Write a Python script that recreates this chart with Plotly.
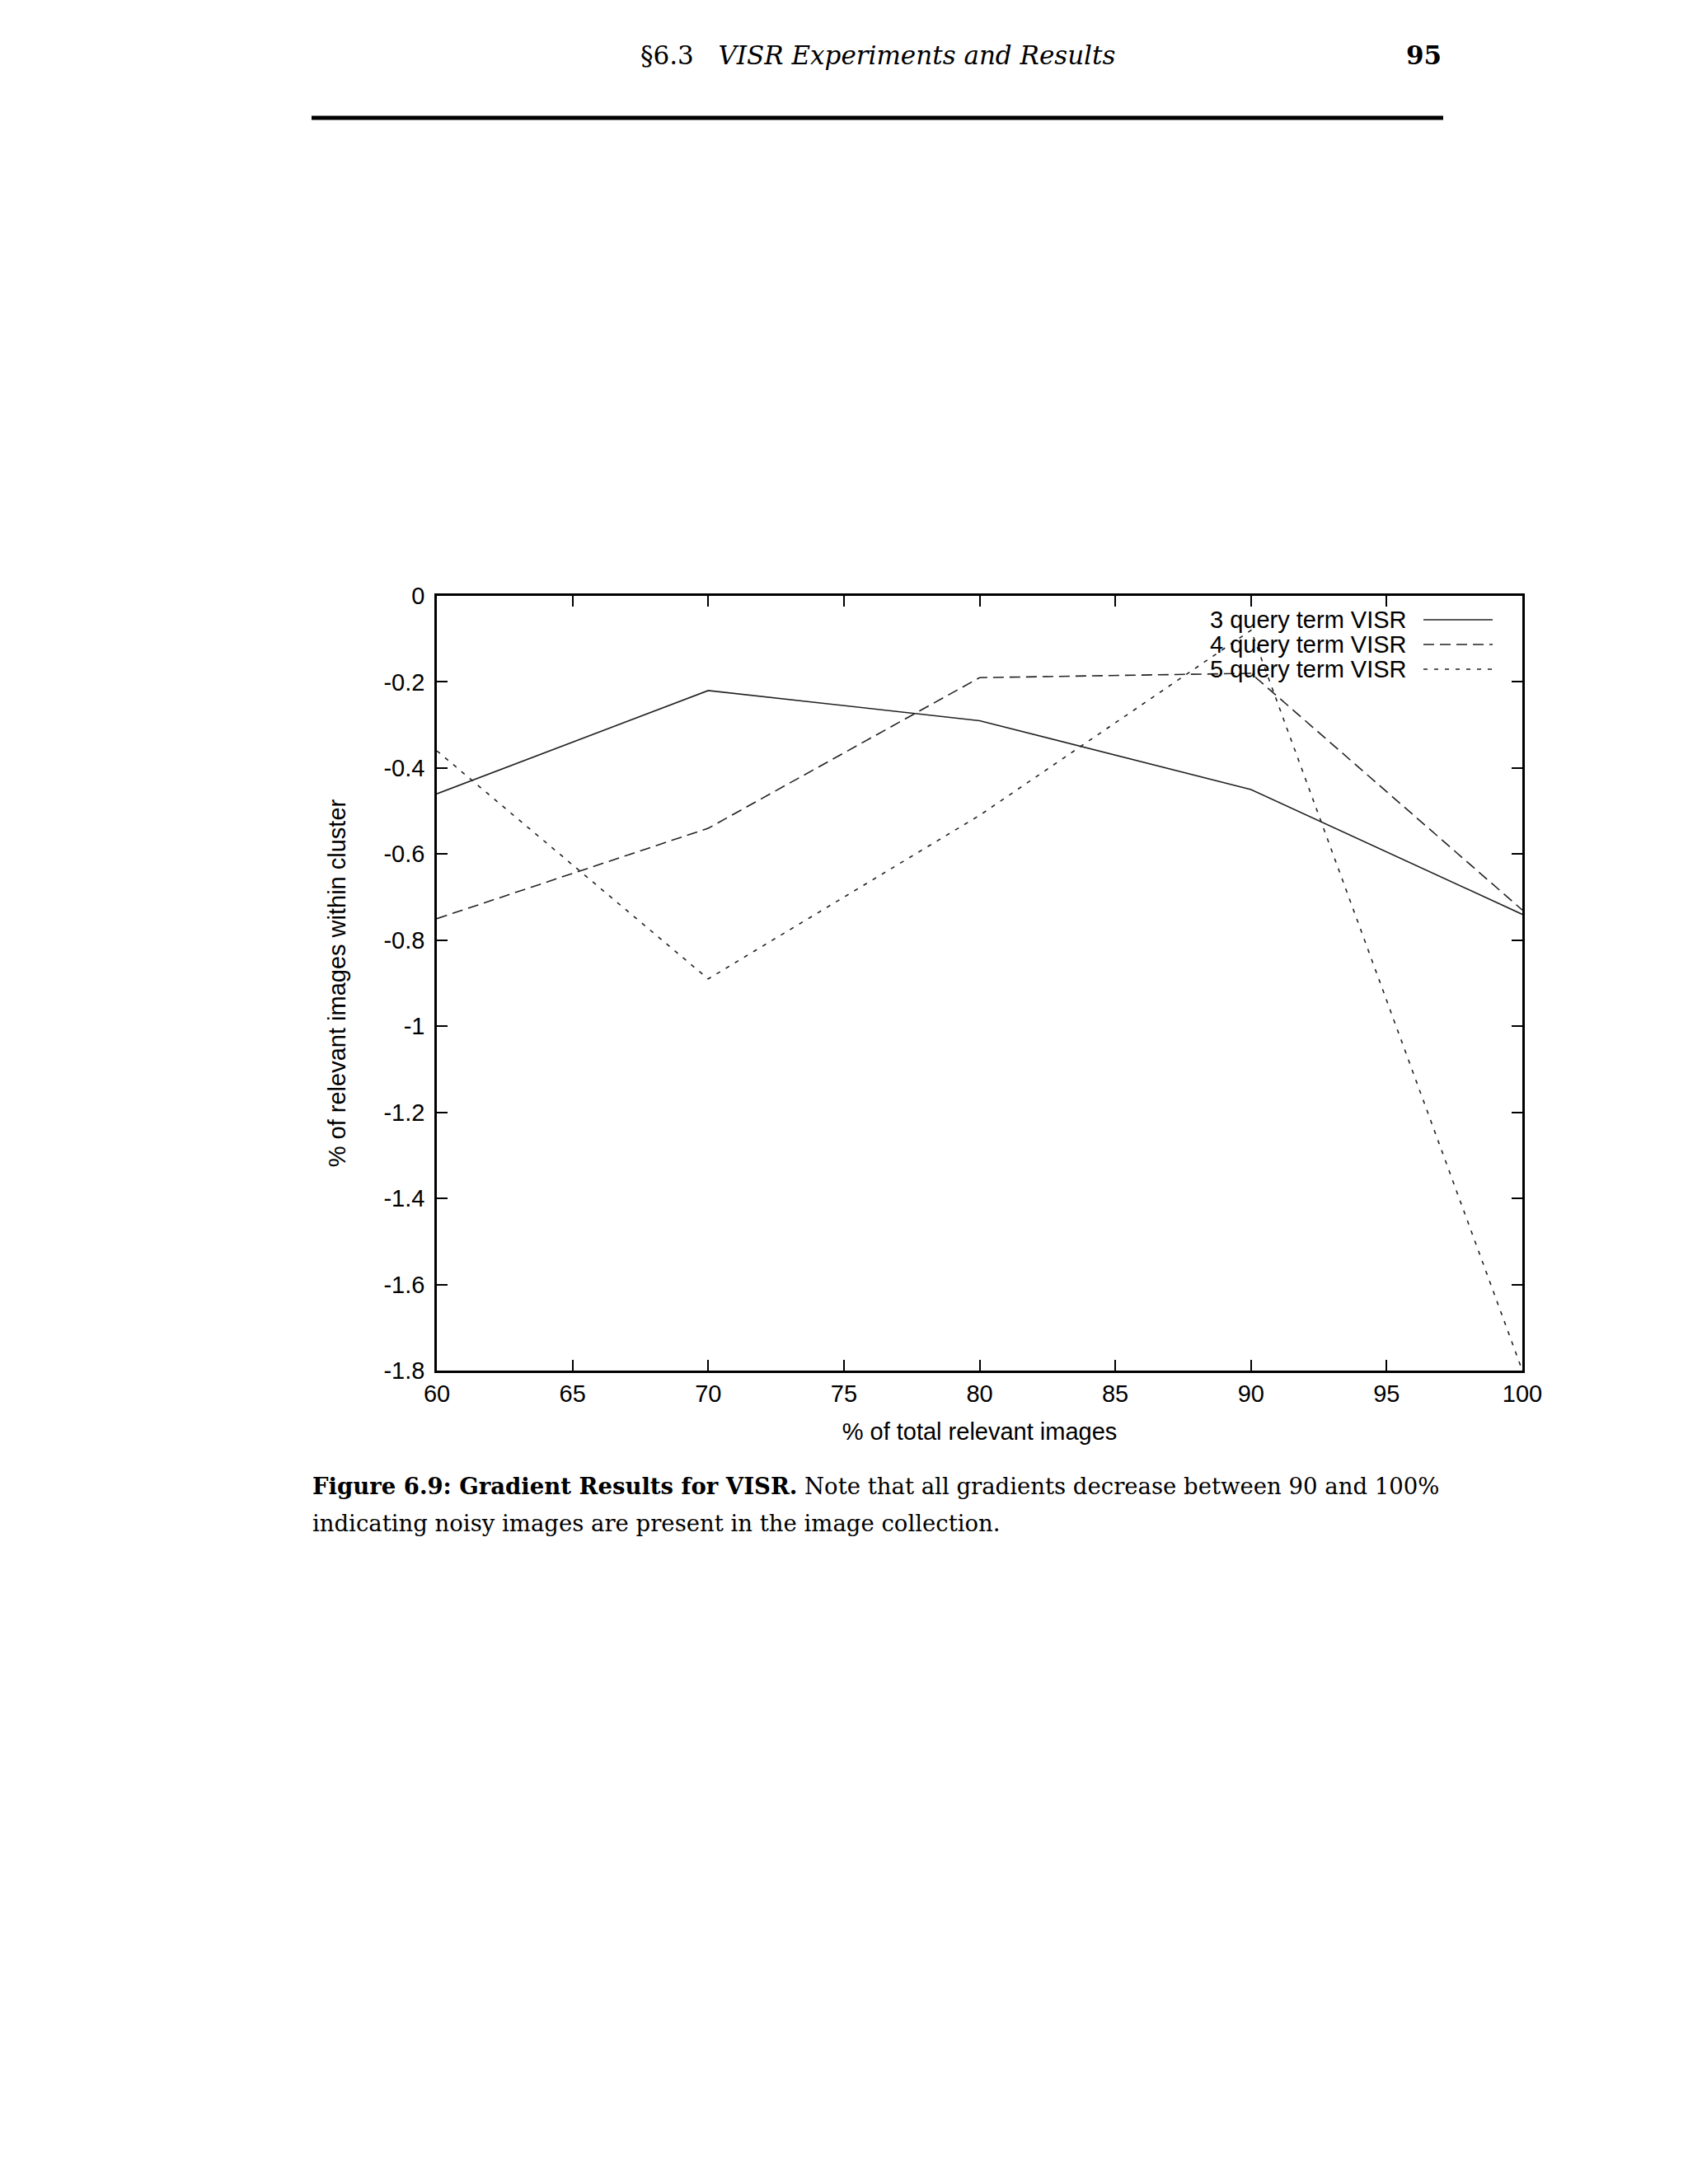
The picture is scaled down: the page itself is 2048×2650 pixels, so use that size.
import plotly.graph_objects as go

# ---- data ----
x_pct = [60, 70, 80, 90, 100]
q3_vals = [-0.46, -0.22, -0.29, -0.45, -0.74]
q4_vals = [-0.75, -0.54, -0.19, -0.18, -0.73]
q5_vals = [-0.36, -0.89, -0.51, -0.08, -1.80]
series_names = ["3 query term VISR", "4 query term VISR", "5 query term VISR"]
x_ticks = [60, 65, 70, 75, 80, 85, 90, 95, 100]
y_ticks = [0, -0.2, -0.4, -0.6, -0.8, -1, -1.2, -1.4, -1.6, -1.8]
y_tick_labels = ["0", "-0.2", "-0.4", "-0.6", "-0.8", "-1", "-1.2", "-1.4", "-1.6", "-1.8"]

W, H = 2048, 2650
L, R, T, B = 530, 1847, 723, 1663
PW, PH = R - L, B - T


def px(X):
    return (X - L) / PW


def py(Y):
    return 1 - (Y - T) / PH


SANS = "Liberation Sans, Arial, sans-serif"
SERIF = "DejaVu Serif, serif"
FS = 29
dashes = ["solid", "13px,7px", "5px,8px"]
series = [q3_vals, q4_vals, q5_vals]

fig = go.Figure()
for name, vals, d in zip(series_names, series, dashes):
    fig.add_trace(go.Scatter(x=x_pct, y=vals, mode="lines", name=name,
                             line=dict(color="#222222", width=1.6, dash=d),
                             showlegend=False))

annotations = []
shapes = []
# manual gnuplot-style legend (text right, sample line after)
legend_rows = [752, 782, 812]
for name, d, yy in zip(series_names, dashes, legend_rows):
    annotations.append(dict(text=name, x=px(1709), y=py(yy), xref="paper", yref="paper",
                            xanchor="right", yanchor="middle", showarrow=False,
                            font=dict(family=SANS, size=FS, color="black")))
    shapes.append(dict(type="line", xref="paper", yref="paper",
                       x0=px(1727), x1=px(1811), y0=py(yy), y1=py(yy),
                       line=dict(color="#222222", width=1.6, dash=d)))

# page header
annotations.append(dict(text="§6.3   <i>VISR Experiments and Results</i>", x=px(775), y=py(67),
                        xref="paper", yref="paper", xanchor="left", yanchor="middle",
                        showarrow=False, font=dict(family=SERIF, size=31, color="black")))
annotations.append(dict(text="<b>95</b>", x=px(1751), y=py(67),
                        xref="paper", yref="paper", xanchor="right", yanchor="middle",
                        showarrow=False, font=dict(family=SERIF, size=31, color="black")))
shapes.append(dict(type="line", xref="paper", yref="paper",
                   x0=px(378), x1=px(1751), y0=py(143), y1=py(143),
                   line=dict(color="black", width=5)))

# caption (two lines)
cap_lines = [
    "<b>Figure 6.9: Gradient Results for VISR.</b> Note that all gradients decrease between 90 and 100%",
    "indicating noisy images are present in the image collection.",
]
for line_text, yy in zip(cap_lines, [1803, 1848]):
    annotations.append(dict(text=line_text, x=px(377), y=py(yy), xref="paper", yref="paper",
                            xanchor="left", yanchor="middle", align="left", showarrow=False,
                            font=dict(family=SERIF, size=27.5, color="black")))

axis_common = dict(showline=True, linecolor="black", linewidth=2.5, mirror="allticks",
                   ticks="inside", ticklen=13, tickwidth=2, tickcolor="black",
                   showgrid=False, zeroline=False,
                   tickfont=dict(family=SANS, size=FS, color="black"))

fig.update_layout(
    width=W, height=H,
    margin=dict(l=L, r=W - R, t=T, b=H - B, pad=0),
    paper_bgcolor="white", plot_bgcolor="white",
    xaxis=dict(range=[60, 100], tickvals=x_ticks, ticktext=[str(v) for v in x_ticks],
               title=dict(text="% of total relevant images", standoff=22,
                          font=dict(family=SANS, size=FS, color="black")),
               **axis_common),
    yaxis=dict(range=[-1.8, 0], tickvals=y_ticks, ticktext=y_tick_labels,
               ticklabelstandoff=6,
               title=dict(text="% of relevant images within cluster", standoff=38,
                          font=dict(family=SANS, size=FS, color="black")),
               **axis_common),
    annotations=annotations,
    shapes=shapes,
)

fig.write_html("out.html", config={"displayModeBar": False},
               post_script="document.body.style.margin='0';")
